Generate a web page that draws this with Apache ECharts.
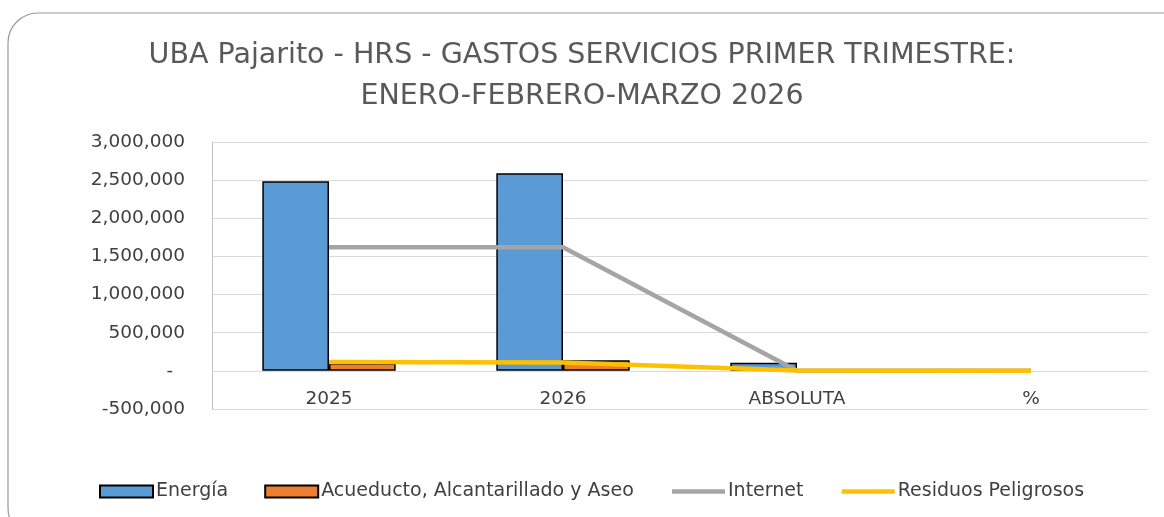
<!DOCTYPE html>
<html>
<head>
<meta charset="utf-8">
<script src="https://cdn.jsdelivr.net/npm/echarts@6/dist/echarts.min.js"></script>
<style>
  html, body { margin: 0; padding: 0; background: #fff; }
  #chart { width: 1164px; height: 517px; }
</style>
</head>
<body>
<div id="chart"></div>
<script>
// Datos (COP); null = sin barra visible
const categorias = ["2025", "2026", "ABSOLUTA", "%"];
const energia = [2485000, 2590000, 105000, null];
const acueducto = [100000, 140000, null, null];
const internet = [1620000, 1620000, 0, 0];
const residuos = [115000, 110000, 5000, 0];
const yTicks = { min: -500000, max: 3000000, interval: 500000 };

const FONT = "'DejaVu Sans', sans-serif";
const TXT = "#404040";

const fmt = new Intl.NumberFormat("en-US");

const chart = echarts.init(document.getElementById("chart"), null, { renderer: "canvas" });

const lineLegend = (w) => ({ itemStyle: { opacity: 0 }, lineStyle: { width: w } });

chart.setOption({
  animation: false,
  textStyle: { fontFamily: FONT },
  title: {
    text: "UBA Pajarito - HRS - GASTOS SERVICIOS PRIMER TRIMESTRE:\nENERO-FEBRERO-MARZO 2026",
    left: "center",
    top: 30,
    textStyle: { fontFamily: FONT, fontSize: 28.5, fontWeight: "normal", color: "#595959", lineHeight: 41 },
  },
  graphic: [
    {
      type: "rect",
      shape: { x: 8, y: 13, width: 1190, height: 525, r: 30 },
      style: { fill: "none", stroke: "#999", lineWidth: 1.2 },
      silent: true,
      z: -1,
    },
  ],
  legend: {
    bottom: 16,
    left: 99,
    padding: 0,
    itemWidth: 53,
    itemHeight: 12,
    itemGap: 36,
    textStyle: { fontFamily: FONT, fontSize: 19, color: TXT, padding: [0, 0, 0, -2] },
    data: [
      { name: "Energía", icon: "rect" },
      { name: "Acueducto, Alcantarillado y Aseo", icon: "rect" },
      { name: "Internet", ...lineLegend(4.5) },
      { name: "Residuos Peligrosos", ...lineLegend(4.5) },
    ],
  },
  grid: { left: 212, right: 16, top: 142, bottom: 108 },
  xAxis: {
    type: "category",
    data: categorias,
    offset: -38,
    axisLine: { onZero: false, lineStyle: { color: "#d9d9d9", width: 1 } },
    axisTick: { show: false },
    axisLabel: { color: TXT, fontSize: 18.5, margin: 19 },
  },
  yAxis: {
    type: "value",
    ...yTicks,
    axisLine: { show: true, lineStyle: { color: "#bfbfbf" } },
    axisTick: { show: false },
    splitLine: { showMinLine: true, showMaxLine: true, lineStyle: { color: "#d9d9d9" } },
    axisLabel: {
      color: TXT,
      fontSize: 18.5,
      margin: 27,
      formatter: (v) => (v === 0 ? "-  " : fmt.format(v)),
    },
  },
  series: [
    {
      name: "Energía",
      type: "bar",
      data: energia,
      barGap: "0%",
      barCategoryGap: "43%",
      itemStyle: { color: "#5b9bd5", borderColor: "#000", borderWidth: 1.5 },
    },
    {
      name: "Acueducto, Alcantarillado y Aseo",
      type: "bar",
      data: acueducto,
      itemStyle: { color: "#ed7d31", borderColor: "#000", borderWidth: 1.5 },
    },
    {
      name: "Internet",
      type: "line",
      data: internet,
      symbol: "none",
      itemStyle: { color: "#a5a5a5" },
      lineStyle: { color: "#a5a5a5", width: 4.5 },
    },
    {
      name: "Residuos Peligrosos",
      type: "line",
      data: residuos,
      symbol: "none",
      itemStyle: { color: "#ffc000" },
      lineStyle: { color: "#ffc000", width: 4.5 },
    },
  ],
});
</script>
</body>
</html>
